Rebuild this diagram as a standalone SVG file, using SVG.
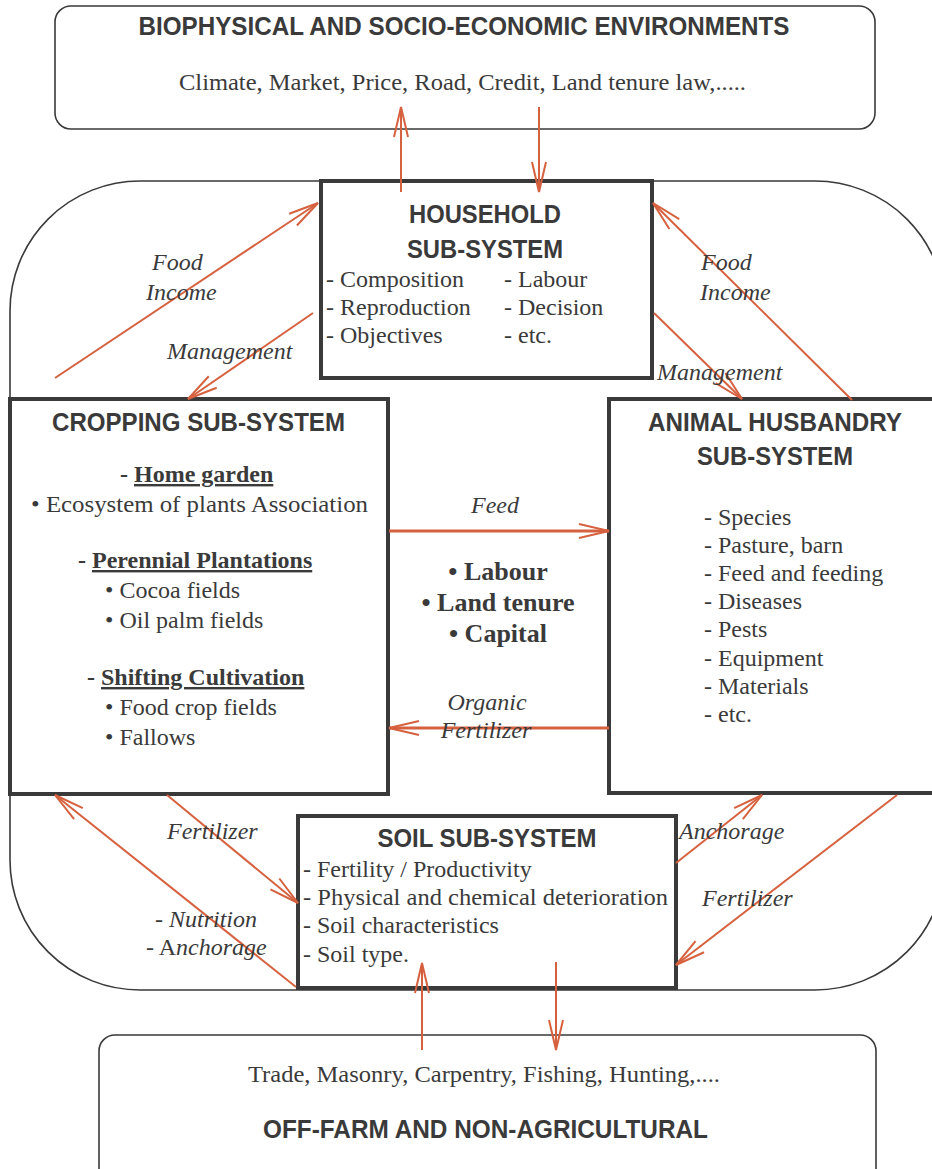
<svg xmlns="http://www.w3.org/2000/svg" width="932" height="1169" viewBox="0 0 932 1169">
<defs>
<style>
.frame{fill:#fff;stroke:#3a3a3a;stroke-width:1.6}
.box{fill:#fff;stroke:#3a3a3a;stroke-width:4}
.title{font-family:"Liberation Sans",Arial,sans-serif;font-weight:bold;font-size:26px;fill:#3a3a3a;text-anchor:middle}
.txt{font-family:"Liberation Serif","Times New Roman",serif;font-size:24px;fill:#3a3a3a}
.bold{font-weight:bold}
.it{font-style:italic}
.mid{text-anchor:middle}
.conn line{stroke:#d6613f;stroke-width:2;fill:none;marker-end:url(#ah)}
.conn line.thick{stroke-width:3}
</style>
<marker id="ah" markerUnits="userSpaceOnUse" markerWidth="34" markerHeight="18" viewBox="-32 -9 34 18" refX="0" refY="0" orient="auto">
<path d="M-30,-7 L0,0 L-30,7" fill="none" stroke="#d6613f" stroke-width="2"/>
</marker>
</defs>

<g id="farm-frame">
<rect class="frame" x="10" y="181" width="935" height="809" rx="130" ry="130"/>
</g>

<g id="environment">
<rect class="frame" x="55" y="6" width="820" height="123" rx="16"/>
<text class="title" x="464" y="35" textLength="651" lengthAdjust="spacingAndGlyphs">BIOPHYSICAL AND SOCIO-ECONOMIC ENVIRONMENTS</text>
<text class="txt" x="179" y="90" textLength="567" lengthAdjust="spacingAndGlyphs">Climate, Market, Price, Road, Credit, Land tenure law,.....</text>
</g>

<g id="offfarm">
<rect class="frame" x="99" y="1035" width="777" height="150" rx="16"/>
<text class="txt" x="248" y="1082" textLength="472" lengthAdjust="spacingAndGlyphs">Trade, Masonry, Carpentry, Fishing, Hunting,....</text>
<text class="title" x="485.5" y="1138" textLength="445" lengthAdjust="spacingAndGlyphs">OFF-FARM AND NON-AGRICULTURAL</text>
</g>

<g id="household">
<rect class="box" x="321" y="181" width="331" height="197"/>
<text class="title" x="485" y="223" textLength="152" lengthAdjust="spacingAndGlyphs">HOUSEHOLD</text>
<text class="title" x="485" y="258" textLength="156" lengthAdjust="spacingAndGlyphs">SUB-SYSTEM</text>
<text class="txt" x="326" y="287">- Composition</text>
<text class="txt" x="326" y="315">- Reproduction</text>
<text class="txt" x="326" y="343">- Objectives</text>
<text class="txt" x="504" y="287">- Labour</text>
<text class="txt" x="504" y="315">- Decision</text>
<text class="txt" x="504" y="343">- etc.</text>
</g>

<g id="cropping">
<rect class="box" x="10" y="399" width="378" height="395"/>
<text class="title" x="198.5" y="431" textLength="293" lengthAdjust="spacingAndGlyphs">CROPPING SUB-SYSTEM</text>
<text class="txt bold" x="120" y="482">- <tspan text-decoration="underline">Home garden</tspan></text>
<text class="txt" x="31" y="512" textLength="337" lengthAdjust="spacingAndGlyphs">• Ecosystem of plants Association</text>
<text class="txt bold" x="78" y="568">- <tspan text-decoration="underline">Perennial Plantations</tspan></text>
<text class="txt" x="105" y="598">• Cocoa fields</text>
<text class="txt" x="105" y="628">• Oil palm fields</text>
<text class="txt bold" x="87" y="685">- <tspan text-decoration="underline">Shifting Cultivation</tspan></text>
<text class="txt" x="105" y="715">• Food crop fields</text>
<text class="txt" x="105" y="745">• Fallows</text>
</g>

<g id="animal">
<rect class="box" x="609" y="399" width="340" height="394"/>
<text class="title" x="775" y="431" textLength="254" lengthAdjust="spacingAndGlyphs">ANIMAL HUSBANDRY</text>
<text class="title" x="775" y="465" textLength="156" lengthAdjust="spacingAndGlyphs">SUB-SYSTEM</text>
<text class="txt" x="704" y="525">- Species</text>
<text class="txt" x="704" y="553">- Pasture, barn</text>
<text class="txt" x="704" y="581">- Feed and feeding</text>
<text class="txt" x="704" y="609">- Diseases</text>
<text class="txt" x="704" y="637">- Pests</text>
<text class="txt" x="704" y="666">- Equipment</text>
<text class="txt" x="704" y="694">- Materials</text>
<text class="txt" x="704" y="722">- etc.</text>
</g>

<g id="soil">
<rect class="box" x="298" y="816" width="378" height="172"/>
<text class="title" x="487" y="847" textLength="219" lengthAdjust="spacingAndGlyphs">SOIL SUB-SYSTEM</text>
<text class="txt" x="303" y="877">- Fertility / Productivity</text>
<text class="txt" x="303" y="905" textLength="365" lengthAdjust="spacingAndGlyphs">- Physical and chemical deterioration</text>
<text class="txt" x="303" y="933">- Soil characteristics</text>
<text class="txt" x="303" y="962">- Soil type.</text>
</g>

<g id="resources">
<text class="txt bold mid" x="498" y="580" style="font-size:26px">• Labour</text>
<text class="txt bold mid" x="498" y="611" style="font-size:26px">• Land tenure</text>
<text class="txt bold mid" x="498" y="642" style="font-size:26px">• Capital</text>
</g>

<g id="connectors" class="conn">
<line x1="401" y1="192" x2="401" y2="107"/>
<line x1="539" y1="107" x2="539" y2="192"/>
<line x1="55" y1="378" x2="318" y2="203"/>
<line x1="313" y1="313" x2="188" y2="399"/>
<line x1="852" y1="400" x2="653" y2="203"/>
<line x1="654" y1="313" x2="742" y2="399"/>
<line class="thick" x1="389" y1="531" x2="609" y2="531"/>
<line class="thick" x1="609" y1="728" x2="389" y2="728"/>
<line x1="167" y1="795" x2="298" y2="903"/>
<line x1="296" y1="987" x2="55" y2="795"/>
<line x1="676" y1="863" x2="762" y2="795"/>
<line x1="897" y1="795" x2="676" y2="965"/>
<line x1="422" y1="1050" x2="422" y2="963"/>
<line x1="556" y1="962" x2="556" y2="1050"/>
</g>

<g id="connector-labels">
<text class="txt it" x="152" y="270">Food</text>
<text class="txt it" x="146" y="300">Income</text>
<text class="txt it" x="167" y="359">Management</text>
<text class="txt it" x="701" y="270">Food</text>
<text class="txt it" x="700" y="300">Income</text>
<text class="txt it" x="657" y="380">Management</text>
<text class="txt it mid" x="495" y="513">Feed</text>
<text class="txt it mid" x="487" y="710">Organic</text>
<text class="txt it mid" x="486" y="738">Fertilizer</text>
<text class="txt it" x="167" y="839">Fertilizer</text>
<text class="txt it" x="155" y="927">- Nutrition</text>
<text class="txt" x="146" y="955">- A<tspan class="it">nchorage</tspan></text>
<text class="txt it" x="679" y="839">Anchorage</text>
<text class="txt it" x="702" y="906">Fertilizer</text>
</g>
</svg>
